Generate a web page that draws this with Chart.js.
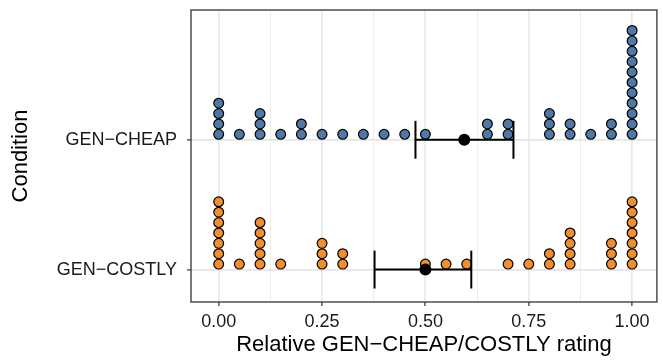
<!DOCTYPE html>
<html>
<head>
<meta charset="utf-8">
<script src="https://cdn.jsdelivr.net/npm/chart.js@4.4.1/dist/chart.umd.min.js"></script>
<style>
  html, body { margin: 0; padding: 0; background: #fff; }
  #wrap { width: 663px; height: 362px; }
</style>
</head>
<body>
<div id="wrap"><canvas id="chart" width="663" height="362"></canvas></div>
<script>
// conditions on the y axis (position 1 = bottom, 2 = top)
const conditions = ['GEN−COSTLY', 'GEN−CHEAP'];

// rating bins and how many participants gave each rating
const ratingBins = [0, 0.05, 0.10, 0.15, 0.20, 0.25, 0.30, 0.35, 0.40, 0.45, 0.50,
  0.55, 0.60, 0.65, 0.70, 0.75, 0.80, 0.85, 0.90, 0.95, 1.00];
const cheapCounts = [4, 1, 3, 1, 2, 1, 1, 1, 1, 1, 1, 0, 0, 2, 2, 0, 3, 2, 1, 2, 11];
const costlyCounts = [7, 1, 5, 1, 0, 3, 2, 0, 0, 0, 1, 1, 1, 0, 1, 1, 2, 4, 0, 3, 7];

// mean and interval per condition
const cheapSummary = [0.594, 0.476, 0.713]; // mean, low, high
const costlySummary = [0.500, 0.377, 0.611];

const xTickValues = [0, 0.25, 0.5, 0.75, 1];
const xTickLabels = ['0.00', '0.25', '0.50', '0.75', '1.00'];
const xMinorValues = [0.125, 0.375, 0.625, 0.875];

const BLUE = '#4E79A7';
const ORANGE = '#F28E2B';
const FONT = "'Liberation Sans', Arial, Helvetica, sans-serif";

// stack dots upward from the condition line
const dotBase = 0.042;
const dotStep = 0.08;
function stackDots(counts, yPos) {
  const pts = [];
  counts.forEach((n, i) => {
    for (let k = 0; k < n; k++) {
      pts.push({ x: ratingBins[i], y: yPos + dotBase + k * dotStep });
    }
  });
  return pts;
}

const capHalf = 0.146;
function errorBar([mean, lo, hi], yPos) {
  const seg = data => ({
    type: 'line', data, showLine: true, borderColor: '#000', borderWidth: 2,
    pointRadius: 0, fill: false, order: 1,
  });
  return [
    seg([{ x: lo, y: yPos }, { x: hi, y: yPos }]),
    seg([{ x: lo, y: yPos - capHalf }, { x: lo, y: yPos + capHalf }]),
    seg([{ x: hi, y: yPos - capHalf }, { x: hi, y: yPos + capHalf }]),
    {
      type: 'scatter', data: [{ x: mean, y: yPos }], pointRadius: 6,
      pointBackgroundColor: '#000', pointBorderWidth: 0, order: 0,
    },
  ];
}

const dotStyle = color => ({
  pointRadius: 4.9, pointBorderWidth: 1.2, pointBorderColor: '#000',
  pointBackgroundColor: color, order: 2,
});

const panelBorder = {
  id: 'panelBorder',
  afterDraw(chart) {
    const { ctx, chartArea: a } = chart;
    ctx.save();
    ctx.strokeStyle = '#333';
    ctx.lineWidth = 1.3;
    ctx.strokeRect(a.left, a.top, a.right - a.left, a.bottom - a.top);
    ctx.restore();
  },
};

const isMajor = v => xTickValues.some(t => Math.abs(t - v) < 1e-9);

new Chart(document.getElementById('chart'), {
  type: 'scatter',
  data: {
    datasets: [
      { data: stackDots(cheapCounts, 2), ...dotStyle(BLUE) },
      { data: stackDots(costlyCounts, 1), ...dotStyle(ORANGE) },
      ...errorBar(cheapSummary, 2),
      ...errorBar(costlySummary, 1),
    ],
  },
  options: {
    responsive: false,
    animation: false,
    layout: { padding: 0 },
    plugins: { legend: { display: false }, tooltip: { enabled: false } },
    scales: {
      x: {
        type: 'linear',
        min: -0.067,
        max: 1.06,
        afterBuildTicks: scale => {
          scale.ticks = [...xTickValues, ...xMinorValues].sort((a, b) => a - b).map(value => ({ value }));
        },
        afterFit: scale => {
          scale.height = 60;
          scale.paddingLeft = 0;
          scale.paddingRight = 1;
        },
        ticks: {
          autoSkip: false,
          maxRotation: 0,
          padding: 5,
          color: '#1a1a1a',
          font: { family: FONT, size: 18 },
          callback: v => (isMajor(v) ? xTickLabels[xTickValues.findIndex(t => Math.abs(t - v) < 1e-9)] : ''),
        },
        grid: {
          color: '#EBEBEB',
          lineWidth: c => (isMajor(c.tick.value) ? 1.8 : 0.9),
          tickColor: c => (isMajor(c.tick.value) ? '#333' : 'rgba(0,0,0,0)'),
          tickLength: 4,
          tickWidth: 1.2,
        },
        border: { display: false },
        title: {
          display: true,
          text: 'Relative GEN−CHEAP/COSTLY rating',
          color: '#000',
          font: { family: FONT, size: 22 },
          padding: { top: 0, bottom: 4 },
        },
      },
      y: {
        type: 'linear',
        min: 0.75,
        max: 3.0,
        afterBuildTicks: scale => {
          scale.ticks = [1, 2].map(value => ({ value }));
        },
        afterFit: scale => {
          scale.width = 191;
          scale.paddingTop = 10;
          scale.paddingBottom = 0;
        },
        ticks: {
          autoSkip: false,
          padding: 10,
          color: '#1a1a1a',
          font: { family: FONT, size: 18 },
          callback: v => conditions[v - 1] || '',
        },
        grid: {
          color: '#E6E6E6',
          lineWidth: 1.8,
          tickColor: '#333',
          tickLength: 4,
          tickWidth: 1.2,
        },
        border: { display: false },
        title: {
          display: true,
          text: 'Condition',
          color: '#000',
          font: { family: FONT, size: 22 },
          padding: { top: 8, bottom: 0 },
        },
      },
    },
  },
  plugins: [panelBorder],
});
</script>
</body>
</html>
